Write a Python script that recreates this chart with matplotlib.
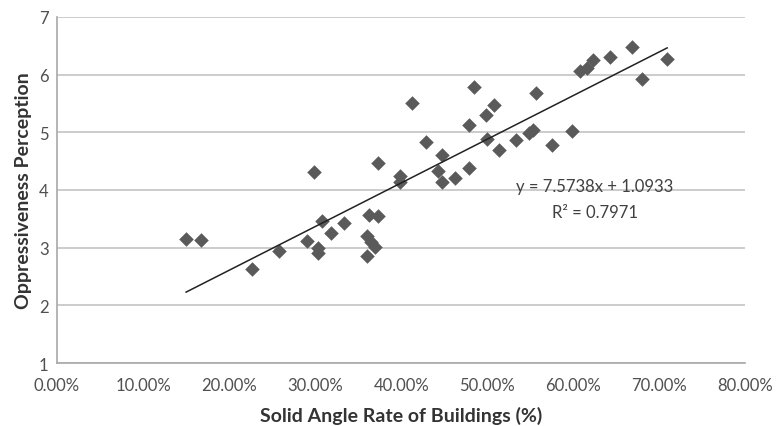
import matplotlib.pyplot as plt
import numpy as np
from matplotlib.ticker import FuncFormatter

plt.rcParams['font.family'] = ['Lato', 'DejaVu Sans']

# solid angle rate (fraction) vs oppressiveness perception
solid_angle = [0.150, 0.167, 0.227, 0.258, 0.290, 0.299, 0.303, 0.303, 0.308, 0.318,
               0.334, 0.362, 0.360, 0.370, 0.360, 0.365, 0.373, 0.373, 0.399, 0.399,
               0.413, 0.429, 0.447, 0.443, 0.447, 0.463, 0.479, 0.479, 0.484, 0.499,
               0.508, 0.500, 0.514, 0.533, 0.548, 0.557, 0.553, 0.575, 0.599, 0.608,
               0.616, 0.623, 0.643, 0.668, 0.680, 0.709]
oppressiveness = [3.15, 3.13, 2.63, 2.95, 3.11, 4.31, 3.00, 2.90, 3.47, 3.25,
                  3.42, 3.57, 3.20, 3.02, 2.85, 3.10, 3.55, 4.47, 4.25, 4.13,
                  5.51, 4.83, 4.60, 4.33, 4.14, 4.20, 4.38, 5.13, 5.79, 5.30,
                  5.48, 4.88, 4.70, 4.87, 4.98, 5.68, 5.04, 4.78, 5.03, 6.06,
                  6.12, 6.25, 6.30, 6.48, 5.93, 6.27]

slope, intercept, r2 = 7.5738, 1.0933, 0.7971

fig = plt.figure(figsize=(7.77, 4.27), dpi=100)
ax = fig.add_axes([0.0734, 0.1475, 0.886, 0.8105])

ax.scatter(solid_angle, oppressiveness, marker='D', s=55, color='#5a5a5a', zorder=3, linewidths=0)

xl = np.array([min(solid_angle), max(solid_angle)])
ax.plot(xl, slope * xl + intercept, color='#222222', lw=1.1, zorder=4)

ax.text(0.625, 4.07, 'y = 7.5738x + 1.0933', ha='center', va='center', fontsize=12, color='#404040')
ax.text(0.625, 3.62, 'R² = 0.7971', ha='center', va='center', fontsize=12, color='#404040')

ax.set_xlim(0, 0.8)
ax.set_ylim(1, 7)
ax.set_xticks(np.arange(0, 0.81, 0.1))
ax.set_yticks(range(1, 8))
ax.xaxis.set_major_formatter(FuncFormatter(lambda v, p: f'{v*100:.2f}%'))
ax.grid(axis='y', color='#c4c4c4', lw=1.2)
ax.set_axisbelow(True)
for s in ['top', 'right']:
    ax.spines[s].set_visible(False)
for s in ['left', 'bottom']:
    ax.spines[s].set_color('#a8a8a8')
    ax.spines[s].set_linewidth(1.2)
ax.tick_params(length=0, labelsize=12, colors='#505050')
ax.tick_params(axis='x', pad=10)
ax.tick_params(axis='y', pad=6)

ax.set_xlabel('Solid Angle Rate of Buildings (%)', fontsize=14, fontweight='bold', color='#333333', labelpad=9)
ax.set_ylabel('Oppressiveness Perception', fontsize=14, fontweight='bold', color='#333333', labelpad=5)

fig.savefig('out.png', dpi=100)
